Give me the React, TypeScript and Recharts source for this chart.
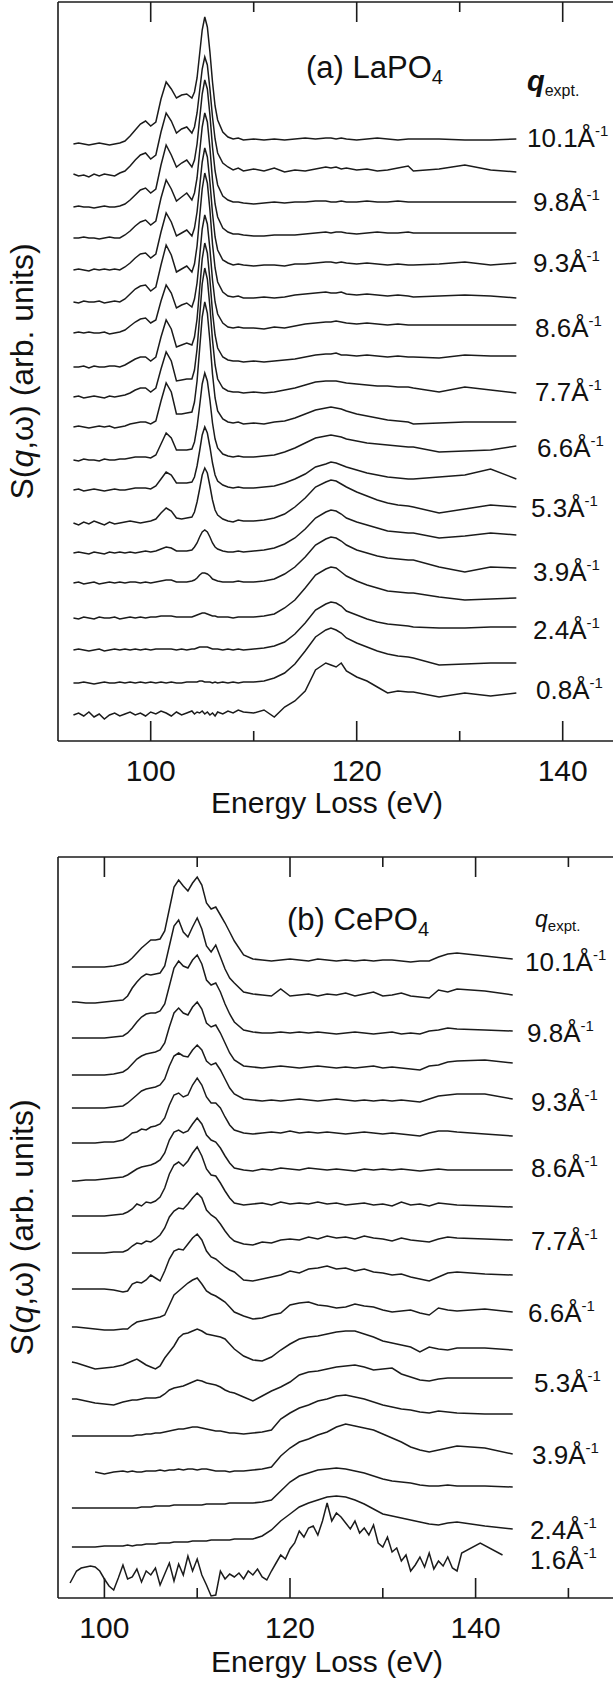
import React from 'react';
import { LineChart, Line, XAxis, YAxis } from 'recharts';

const INK = '#1b1b1b';
const FONT = '"Liberation Sans", Arial, Helvetica, sans-serif';

// ---------------- Panel (a) LaPO4 ----------------
const A_DOMAIN: [number, number] = [91, 150];
const A_TICKS = [100, 110, 120, 130, 140, 150];
const A_LABELED = [100, 120, 140];
const EA = [
  92.5, 93, 93.5, 94, 94.5, 95, 95.5, 96, 96.5, 97,
  97.5, 98, 98.5, 99, 99.5, 100, 100.5, 101, 101.5, 102, 102.5, 103, 103.5, 104,
  104.25, 104.5, 104.75, 105, 105.25, 105.5, 105.75, 106, 106.25, 106.5,
  107, 107.5, 108, 108.5, 109,
  110, 111, 112, 113, 114, 115, 116, 117, 117.5, 118, 118.5, 119, 120, 121, 122, 123, 124, 125, 125.5,
  128, 130.5, 133, 135.5,
];
const A_OFF = [597, 566, 534, 503, 471, 439, 408, 374, 344, 314, 281, 251, 218, 188, 158, 123, 91, 58, 26];

const A01 = [0,1,0,-1,0,1,0,-1,0,1, 3,8,14,20,23,18,22,45,62,55,46,49,50,46, 52,66,90,114,127,117,92,62,38,24, 12,7,5,6,4, 5,4,5,4,5,6,5,6,6,5,6,5,4,5,6,5,4,5,5, 5,4,4,5];
const A02 = [1,-1,0,-2,1,-1,1,0,-1,2, 4,9,15,20,22,16,20,43,62,54,42,46,48,42, 48,62,84,106,118,110,86,58,36,22, 12,8,5,7,4, 6,4,7,3,5,4,6,8,7,8,6,7,5,6,4,5,7,9,4, 6,10,5,3];
const A03 = [0,1,0,0,-1,0,1,0,0,1, 3,7,12,17,19,14,18,42,62,52,40,44,47,40, 47,63,88,113,127,118,92,60,36,22, 11,7,5,5,4, 3,4,5,4,5,5,6,6,5,5,6,5,5,6,5,5,6,5,5, 5,5,5,5];
const A04 = [0,0,1,0,0,-1,0,1,0,0, 3,7,12,16,18,13,17,40,58,49,37,41,45,38, 45,60,86,111,125,116,90,58,34,21, 10,6,4,4,3, 2,2,3,3,3,4,5,6,5,6,6,5,4,5,6,5,5,6,5, 5,5,5,5];
const A05 = [0,1,0,-1,1,0,1,0,1,0, 3,7,12,16,17,12,16,38,57,48,34,37,40,34, 42,58,83,108,122,113,88,57,33,20, 10,7,5,6,5, 4,5,5,4,6,6,7,8,8,7,8,7,6,7,6,5,6,5,5, 6,8,5,7];
const A06 = [0,-1,1,0,0,1,-1,0,1,0, 3,8,13,16,17,11,15,37,57,47,30,33,36,30, 38,56,85,113,129,119,92,58,34,20, 10,6,5,6,4, 4,5,4,5,7,8,9,10,9,9,10,8,7,8,7,6,7,6,5, 6,7,6,4];
const A07 = [0,1,0,1,0,0,1,-1,0,1, 3,7,11,14,15,10,13,32,48,40,25,28,30,26, 34,50,76,104,118,109,84,53,31,19, 10,6,5,6,5, 5,4,6,5,7,9,10,11,11,12,11,10,9,10,9,8,9,8,8, 8,8,8,8];
const A08 = [0,0,1,-1,1,0,0,1,1,0, 2,5,8,10,10,6,10,30,47,38,20,22,24,22, 30,48,78,108,124,114,87,55,32,19, 10,7,6,6,5, 6,5,6,7,8,10,12,13,13,14,12,12,11,12,11,10,11,10,10, 9,12,11,11];
const A09 = [0,1,-1,0,1,0,-1,1,0,1, 2,4,7,9,9,5,9,28,45,36,16,17,18,18, 27,48,80,113,129,118,90,57,32,18, 9,6,5,5,4, 5,4,5,7,9,12,15,16,16,16,15,14,13,12,11,11,10,10,9, 5,10,7,4];
const A10 = [0,1,0,-1,0,1,0,1,-1,0, 1,3,4,5,5,3,6,26,44,35,13,13,14,15, 25,46,78,110,125,114,86,53,29,16, 8,5,4,5,3, 4,3,5,6,9,13,17,19,20,19,18,16,13,11,9,7,6,5,3, 4,5,5,5];
const A11 = [0,-1,1,0,0,-1,1,0,0,1, 1,2,3,3,3,2,5,16,27,22,10,10,10,11, 18,33,54,76,87,79,60,37,21,12, 6,4,3,4,3, 3,4,5,8,12,17,22,24,25,24,23,21,19,17,16,15,14,13,13, 8,9,10,14];
const A12 = [0,1,-1,0,1,0,-1,0,1,0, 0,1,2,2,2,1,4,11,18,15,7,7,7,8, 13,24,39,55,63,57,43,27,15,9, 5,3,2,3,2, 2,3,4,7,11,16,23,26,28,27,25,23,20,17,15,13,12,11,11, 13,15,21,11];
const A13 = [0,-2,1,-1,2,0,-2,1,-1,0, 1,2,1,0,1,2,4,10,15,12,5,4,5,6, 11,21,34,48,55,50,37,23,13,8, 4,2,1,3,2, 2,3,5,9,16,25,36,41,43,42,39,36,31,27,23,20,18,17,16, 10,14,18,16];
const A14 = [0,1,0,-1,1,0,-1,1,0,1, 0,1,0,1,2,1,2,4,6,5,2,2,2,3, 6,10,16,21,23,21,16,10,6,4, 2,1,1,2,1, 2,3,5,9,15,24,35,41,43,42,39,35,31,28,25,22,21,20,20, 15,17,20,18];
const A15 = [0,1,-1,0,1,-1,0,1,0,1, 0,1,1,0,1,0,1,2,3,3,1,1,1,2, 3,5,8,10,10,9,7,4,3,2, 1,1,1,2,1, 1,2,4,9,16,26,38,44,46,45,42,38,33,30,27,25,24,23,23, 16,11,16,15];
const A16 = [0,-1,1,0,-1,1,0,0,1,-1, 0,1,0,1,0,1,1,2,2,2,1,1,1,1, 2,3,4,5,5,4,3,2,2,1, 1,1,0,1,1, 1,2,4,10,18,30,43,49,51,50,46,42,37,33,30,27,26,25,25, 21,18,19,20];
const A17 = [0,1,0,-1,0,1,-1,0,1,0, 1,0,1,0,1,0,1,1,1,1,0,1,0,1, 1,2,3,3,3,3,2,1,1,1, 0,1,0,1,0, 1,2,4,8,16,27,40,46,48,47,44,39,35,31,28,26,25,24,23, 22,22,23,23];
const A18 = [0,0,1,0,-1,0,1,0,0,1, 0,1,0,1,0,1,0,1,0,1,0,0,1,1, 1,1,2,2,1,1,1,0,1,0, 1,0,1,0,1, 1,2,5,10,19,32,46,53,55,53,50,45,40,36,32,29,27,26,25, 18,19,20,20];
const A19 = [0,2,-1,3,-2,1,-4,0,2,-1, 1,3,0,2,-1,3,1,4,2,-1,3,0,2,4, 1,3,2,4,1,3,0,2,-1,3, 1,4,2,5,3, 2,5,-2,8,14,24,45,52,50,48,52,44,38,34,28,22,24,23,23, 18,22,19,22];
const A_SERIES = [A01, A02, A03, A04, A05, A06, A07, A08, A09, A10, A11, A12, A13, A14, A15, A16, A17, A18, A19];

const A_LABEL_TEXT = ['10.1', '9.8', '9.3', '8.6', '7.7', '6.6', '5.3', '3.9', '2.4', '0.8'];
const A_LABEL_X = [527, 533, 533, 535, 535, 537, 531, 533, 533, 536];
const A_LABEL_Y = [147, 211, 272, 337, 401, 457, 517, 581, 639, 699];

// ---------------- Panel (b) CePO4 ----------------
const B_DOMAIN: [number, number] = [95, 160];
const B_TICKS = [100, 110, 120, 130, 140, 150, 160];
const B_LABELED = [100, 120, 140];
const EB = [
  96.5, 97, 98, 99, 100, 101, 102,
  102.5, 103, 103.5, 104, 104.5, 105, 105.5, 106, 106.5, 107, 107.5, 108, 108.5, 109, 109.5, 110, 110.5, 111, 111.5, 112, 112.5, 113, 113.5, 114,
  115, 116, 117, 118, 119, 120, 121, 122, 123, 124, 125, 126, 127, 128, 129, 130, 131, 132, 133, 134, 135, 136, 137, 138,
  141, 144,
];
const B_OFF = [631, 596, 560, 523, 490, 455, 418, 382, 345, 309, 271, 236, 199, 162, 126, 90, 51, 15];

const B01 = [0,0,0,0,0,1,3, 5,9,14,19,23,27,27,28,36,58,80,87,81,76,84,90,82,64,58,60,52,44,35,26, 12,8,7,6,7,8,7,6,8,7,6,7,6,7,6,7,7,6,5,6,6,10,13,14, 11,8];
const B02 = [0,0,-1,-1,0,1,2, 6,14,20,25,28,27,28,29,36,56,76,82,70,65,75,84,73,56,50,57,45,33,24,19, 10,8,7,6,13,6,7,8,6,8,7,9,6,8,10,6,7,9,6,5,4,12,10,13, 11,7];
const B03 = [0,0,0,0,0,1,2, 5,10,16,21,24,25,25,27,34,52,70,77,72,70,78,83,74,58,53,55,46,34,24,16, 8,6,5,5,6,5,6,5,6,5,4,5,6,5,4,5,6,4,5,4,7,8,10,9, 8,7];
const B04 = [0,0,0,0,0,1,3, 6,11,16,19,21,22,23,25,32,48,62,67,62,60,68,73,66,52,48,50,42,32,22,15, 9,8,7,8,9,8,7,8,9,8,7,8,7,8,9,7,8,7,6,5,9,10,13,14, 15,12];
const B05 = [0,0,0,0,0,1,2, 5,9,13,17,19,20,21,23,29,42,52,55,52,51,58,63,58,47,43,45,38,29,20,14, 9,8,7,8,7,8,9,8,7,8,9,8,7,8,7,8,7,8,7,6,9,12,13,14, 14,9];
const B06 = [0,0,0,0,1,1,3, 6,10,11,14,13,16,17,19,25,38,48,50,46,48,58,65,58,46,40,40,35,26,18,13, 10,9,10,11,10,12,10,11,10,11,10,9,10,11,10,9,10,9,8,7,10,12,12,11, 9,7];
const B07 = [-1,-1,0,0,1,2,3, 5,8,11,13,14,15,17,20,27,40,48,50,47,49,56,62,56,45,40,38,32,24,17,12, 10,9,11,10,12,11,10,12,11,10,11,10,9,11,10,11,10,11,10,9,10,11,10,10, 10,10];
const B08 = [0,0,0,0,0,1,2, 4,7,12,10,14,13,15,19,28,42,51,54,50,55,63,69,60,47,41,40,33,25,18,13, 11,12,13,11,14,12,13,12,14,12,13,11,12,13,11,12,10,14,11,12,10,13,12,11, 10,9];
const B09 = [0,0,0,0,0,1,1, 3,7,10,9,12,11,14,18,25,36,42,45,44,49,55,60,55,43,38,35,29,22,16,12, 9,8,11,10,13,14,13,16,14,17,15,16,14,17,15,14,12,15,13,12,11,14,16,15, 14,13];
const B10 = [0,0,0,0,0,-1,-3, -2,5,7,6,9,14,11,8,18,30,38,40,39,45,51,55,49,38,32,30,26,22,19,17, 9,8,10,12,14,18,16,20,21,23,20,21,18,20,17,16,14,15,12,10,8,12,16,17, 15,14];
const B11 = [0,0,-1,-2,-3,-3,-2, -2,2,5,6,7,8,9,10,12,22,32,36,40,44,47,49,43,36,33,31,28,25,20,15, 11,8,9,12,14,22,24,25,22,21,19,20,23,21,20,17,15,16,17,14,12,19,17,16, 18,15];
const B12 = [0,-1,-4,-7,-6,-5,-3, -1,1,3,0,-3,-5,-7,-4,4,10,16,24,28,29,31,33,31,28,27,26,25,23,18,13, 6,2,1,5,12,18,23,25,26,28,30,31,31,28,25,21,19,17,15,10,15,13,12,14, 14,12];
const B13 = [0,0,-2,-4,-5,-6,-3, -2,-1,-1,0,1,1,1,2,5,9,11,12,13,15,17,19,18,16,15,14,12,9,7,6, 2,-2,3,8,12,17,24,27,28,30,32,33,34,32,29,30,31,25,22,19,18,20,21,21, 21,21];
const B14 = [0,0,0,0,0,0,0, 0,0,1,1,2,2,3,3,4,5,6,7,7,8,9,9,8,7,6,5,5,4,3,3, 2,3,4,6,17,23,28,31,35,37,40,41,39,37,34,31,29,27,26,24,23,25,24,23, 22,22];
const B15 = [null,null,null,0,-2,0,1, 0,1,0,0,1,1,1,2,1,2,2,3,2,3,3,2,3,3,2,1,1,1,0,1, 1,2,3,5,16,24,30,33,37,40,45,48,46,44,42,38,34,30,25,22,20,22,24,26, 24,18];
const B16 = [0,0,0,0,0,0,0, 0,0,0,1,1,1,2,2,2,2,3,3,3,3,3,3,3,4,4,4,4,4,5,5, 5,5,6,8,17,26,32,35,38,39,40,39,37,35,32,29,27,26,25,23,22,22,23,22, 22,21];
const B17 = [0,0,0,0,1,1,1, 2,1,2,2,3,3,3,4,4,4,5,5,5,5,6,6,6,6,7,7,7,7,7,8, 8,8,11,17,26,33,40,44,47,50,51,50,47,43,38,33,31,29,27,25,23,22,24,25, 21,18];
const B_SERIES: (number | null)[][] = [B01, B02, B03, B04, B05, B06, B07, B08, B09, B10, B11, B12, B13, B14, B15, B16, B17];

// lowest, noisy spectrum (1.6 /A) on its own energy grid
const E18 = [
  96.3, 97, 97.5, 98, 98.5, 99, 99.5, 100, 100.5, 101, 101.5, 102, 102.5, 103, 103.5, 104, 104.5, 105, 105.5, 106, 106.5,
  107, 107.5, 108, 108.5, 109, 109.5, 110, 110.5, 111, 111.5, 112, 112.5, 113, 113.5, 114, 114.5, 115, 115.5, 116, 116.5,
  117, 117.5, 118, 118.5, 119, 119.5, 120, 120.5, 121, 121.5, 122, 122.5, 123, 123.5, 124, 124.5, 125, 125.5, 126, 126.5,
  127, 127.5, 128, 128.5, 129, 129.5, 130, 130.5, 131, 131.5, 132, 132.5, 133, 133.5, 134, 134.5, 135, 135.5, 136, 136.5,
  137, 137.5, 138, 138.5, 140.5, 142.9,
];
const B18 = [
  0, 12, 15, 16, 17, 16, 12, 4, -3, -7, 5, 18, 4, 6, 14, 1, 12, 8, 15, -2, 9,
  20, 2, 19, 8, 27, 12, 24, 8, -2, -13, -12, 12, 4, 9, 6, 10, 4, 12, 8, 14,
  6, 3, 12, 20, 28, 24, 34, 40, 52, 46, 55, 57, 48, 62, 80, 62, 70, 66, 60, 54,
  62, 50, 55, 48, 58, 40, 36, 46, 31, 35, 22, 28, 12, 18, 26, 16, 30, 14, 22, 17,
  26, 15, 12, 30, 40, 28,
];

const B_LABEL_TEXT = ['10.1', '9.8', '9.3', '8.6', '7.7', '6.6', '5.3', '3.9', '2.4', '1.6'];
const B_LABEL_X = [525, 527, 531, 531, 531, 528, 534, 532, 530, 530];
const B_LABEL_Y = [971, 1042, 1111, 1177, 1250, 1322, 1392, 1464, 1539, 1569];

// ---------------- build tables ----------------
const A_ROWS = EA.map((e, i) => {
  const row: Record<string, number | null> = { e };
  A_SERIES.forEach((s, k) => {
    row['s' + k] = s[i] + A_OFF[k];
  });
  return row;
});

const bMap = new Map<number, Record<string, number | null>>();
EB.forEach((e, i) => {
  const row = bMap.get(e) ?? { e };
  B_SERIES.forEach((s, k) => {
    const v = s[i];
    if (v !== null && v !== undefined) row['s' + k] = v + B_OFF[k];
  });
  bMap.set(e, row);
});
E18.forEach((e, i) => {
  const row = bMap.get(e) ?? { e };
  row['s17'] = B18[i] + B_OFF[17];
  bMap.set(e, row);
});
const B_ROWS = Array.from(bMap.values()).sort((p, q) => (p.e as number) - (q.e as number));

// ---------------- axis ticks ----------------
function BottomTick(props: any) {
  const { x, y, payload, labeled } = props;
  const v = payload.value;
  const major = labeled.includes(v);
  return (
    <g>
      <line x1={x} x2={x} y1={y} y2={y - (major ? 20 : 10)} stroke={INK} strokeWidth={1.6} />
      {major && (
        <text x={x} y={y + 40} textAnchor="middle" fontSize={30} fill="#111" fontFamily={FONT}>
          {v}
        </text>
      )}
    </g>
  );
}

function TopTick(props: any) {
  const { x, y, payload, labeled } = props;
  const v = payload.value;
  const major = labeled.includes(v);
  return <line x1={x} x2={x} y1={y} y2={y + (major ? 20 : 10)} stroke={INK} strokeWidth={1.6} />;
}

function Panel(props: {
  rows: any[];
  n: number;
  domain: [number, number];
  ticks: number[];
  labeled: number[];
  yMax: number;
  height: number;
  margin: { top: number; right: number; bottom: number; left: number };
}) {
  const { rows, n, domain, ticks, labeled, yMax, height, margin } = props;
  const keys = Array.from({ length: n }, (_, k) => 's' + k);
  return (
    <LineChart width={700} height={height} data={rows} margin={margin}>
      <XAxis
        dataKey="e"
        type="number"
        domain={domain}
        ticks={ticks}
        interval={0}
        height={1}
        tickSize={0}
        tickMargin={0}
        tickLine={false}
        axisLine={{ stroke: INK, strokeWidth: 1.6 }}
        tick={(p: any) => <BottomTick {...p} labeled={labeled} />}
        allowDataOverflow
      />
      <XAxis
        xAxisId="top"
        orientation="top"
        dataKey="e"
        type="number"
        domain={domain}
        ticks={ticks}
        interval={0}
        height={1}
        tickSize={0}
        tickMargin={0}
        tickLine={false}
        axisLine={{ stroke: INK, strokeWidth: 1.6 }}
        tick={(p: any) => <TopTick {...p} labeled={labeled} />}
        allowDataOverflow
      />
      <YAxis
        type="number"
        domain={[0, yMax]}
        width={1}
        tick={false}
        tickLine={false}
        axisLine={{ stroke: INK, strokeWidth: 1.6 }}
        allowDataOverflow
      />
      {keys.map((k) => (
        <Line
          key={k}
          dataKey={k}
          type="linear"
          stroke={INK}
          strokeWidth={1.5}
          dot={false}
          activeDot={false}
          connectNulls
          isAnimationActive={false}
        />
      ))}
    </LineChart>
  );
}

function RightLabel({ x, y, text }: { x: number; y: number; text: string }) {
  return (
    <text x={x} y={y} fontSize={26} fill="#111">
      {text}Å
      <tspan fontSize={15} dy={-11}>-1</tspan>
    </text>
  );
}

export default function App() {
  return (
    <div
      style={{
        position: 'absolute',
        left: 0,
        top: 0,
        width: 613,
        height: 1684,
        overflow: 'hidden',
        background: '#fff',
        fontFamily: FONT,
      }}
    >
      <div style={{ position: 'absolute', left: 0, top: 0 }}>
        <Panel
          rows={A_ROWS}
          n={A_SERIES.length}
          domain={A_DOMAIN}
          ticks={A_TICKS}
          labeled={A_LABELED}
          yMax={739}
          height={830}
          margin={{ top: 1, right: 34.3, bottom: 88, left: 57 }}
        />
      </div>
      <div style={{ position: 'absolute', left: 0, top: 840 }}>
        <Panel
          rows={B_ROWS}
          n={18}
          domain={B_DOMAIN}
          ticks={B_TICKS}
          labeled={B_LABELED}
          yMax={741}
          height={844}
          margin={{ top: 16, right: 38.8, bottom: 85, left: 57 }}
        />
      </div>
      <svg
        width={613}
        height={1684}
        style={{ position: 'absolute', left: 0, top: 0, pointerEvents: 'none', fontFamily: FONT }}
      >
        {/* panel (a) texts */}
        <text x={306} y={78} fontSize={31} fill="#111">
          (a) LaPO<tspan fontSize={20} dy={6}>4</tspan>
        </text>
        <text x={527} y={91} fontSize={29} fill="#111" fontStyle="italic" fontWeight="bold">
          q<tspan fontSize={16} fontStyle="normal" fontWeight="normal" dy={5}>expt.</tspan>
        </text>
        {A_LABEL_TEXT.map((t, i) => (
          <RightLabel key={'a' + i} x={A_LABEL_X[i]} y={A_LABEL_Y[i]} text={t} />
        ))}
        <text x={327} y={813} fontSize={30} fill="#111" textAnchor="middle">
          Energy Loss (eV)
        </text>
        <text transform="translate(33,371.5) rotate(-90)" fontSize={32} fill="#111" textAnchor="middle">
          S(<tspan fontStyle="italic">q</tspan>,ω) (arb. units)
        </text>

        {/* panel (b) texts */}
        <text x={287} y={930} fontSize={31} fill="#111">
          (b) CePO<tspan fontSize={20} dy={6}>4</tspan>
        </text>
        <text x={535} y={927} fontSize={23} fill="#111" fontStyle="italic">
          q<tspan fontSize={15} fontStyle="normal" dy={4}>expt.</tspan>
        </text>
        {B_LABEL_TEXT.map((t, i) => (
          <RightLabel key={'b' + i} x={B_LABEL_X[i]} y={B_LABEL_Y[i]} text={t} />
        ))}
        <text x={327} y={1672} fontSize={30} fill="#111" textAnchor="middle">
          Energy Loss (eV)
        </text>
        <text transform="translate(33,1227.5) rotate(-90)" fontSize={32} fill="#111" textAnchor="middle">
          S(<tspan fontStyle="italic">q</tspan>,ω) (arb. units)
        </text>
      </svg>
    </div>
  );
}
